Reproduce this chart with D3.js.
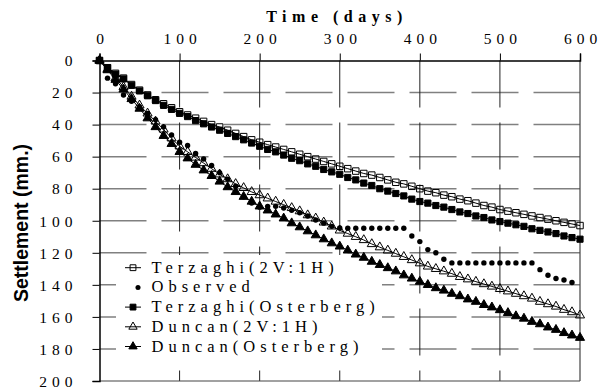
<!DOCTYPE html>
<html><head><meta charset="utf-8">
<script src="https://cdn.jsdelivr.net/npm/d3@7"></script>
<style>
body{margin:0;background:#fff;}
svg{display:block;}
.serif{font-family:"Liberation Serif","Times New Roman","DejaVu Serif",serif;}
.sans{font-family:"Liberation Sans",Arial,sans-serif;}
</style></head>
<body>
<svg id="chart" width="611" height="392"></svg>
<script>
// ---- data ----
const days = d3.range(0, 601, 10);
const xTicks = [0,100,200,300,400,500,600];
const yTicks = [0,20,40,60,80,100,120,140,160,180,200];
const seriesNames = ["Terzaghi(2V:1H)","Observed","Terzaghi(Osterberg)","Duncan(2V:1H)","Duncan(Osterberg)"];

const terzaghi2v1h = [0,4.5,8,11,15,18.5,21.5,24.5,27,29.5,32,34,36,38,40,41.5,43.5,45.5,47.5,49.5,51,
  52.5,54,55.5,57,58.5,60,61.5,63,64.5,66,67.5,69,70.5,71.5,73,74.5,76,77,78.5,80,
  81.5,82.5,84,85,86.5,87.5,89,90.5,91.5,93,94,95,96,97,98,99,100,101,102,103];
const terzaghiOst = [0,4.5,8.5,11.5,15.5,19,22,25,28,30.5,33,35,37.5,39.5,41.5,43.5,45.5,47.5,49.5,51.5,53.5,
  55.5,57,59,61,62.5,64.5,66,68,69.5,71,73,74.5,76.5,78,80,81.5,83,84.5,86.5,88,
  89,90.5,91.5,93,94.5,95.5,97,98,99.5,100.5,101.5,102.5,103.5,105,106,107,108,109.5,110.5,111.5];
const duncan2v1h = [0,5.5,11,16.5,22.5,28,33,38,43,48.5,53.5,57,60.5,64,67.5,71,74,77,79.5,82,84,
  86,88,90,92,94,96.5,98.5,101,103.5,106,108,110,112,114.5,116.5,118.5,120.5,122.5,124.5,126.5,
  128.5,130,131.5,133,135,136.5,138,139.5,141,142.5,144,145.5,147,148.5,150.5,152,153.5,155.5,157,159];
const duncanOst = [0,6,12,18,24,30,36,41.5,47,52,57,61,65,68.5,72,75.5,79,82,85,88,91,
  93.5,96,98.5,101.5,104,106.5,109,111.5,114,116,118.5,121,123,125.5,127.5,129.5,131.5,134,136,138,
  140,142,143.5,145.5,147,149,150.5,152.5,154,155.7,157.5,159.5,161,163,164.5,166.5,168,170,171.5,173];
const obsDays = d3.range(0, 591, 10);
const observed = [0,11,14.5,21.5,25.5,29,33,37,41.5,46.5,51,53,58,61.5,65.5,70,74,78.5,85,89,91.5,
  91,91,92,93.5,95,97,99.5,101.5,103.5,104.5,104.7,104.7,104.7,104.7,104.7,104.7,104.7,104.7,109.5,113,
  118,120,124,126.3,126.3,126.3,126.3,126.3,126.3,126.3,126.3,126.3,126.3,126.3,130.5,134,136,137,138.5];

// ---- layout ----
const svg = d3.select("#chart");
const x = d3.scaleLinear().domain([0,600]).range([99.5,580]);
const y = d3.scaleLinear().domain([0,200]).range([60.5,381]);
const LS = 5;

// grid
const g = svg.append("g");
g.selectAll("line.hg").data(yTicks.filter(d=>d>0 && d<200)).enter().append("line")
  .attr("x1",x(0)).attr("x2",x(600)).attr("y1",d=>y(d)).attr("y2",d=>y(d))
  .attr("stroke","#808080").attr("stroke-width",1.5).attr("stroke-dasharray","47,15");
g.selectAll("line.vg").data(xTicks.filter(d=>d>0 && d<600)).enter().append("line")
  .attr("x1",d=>x(d)).attr("x2",d=>x(d)).attr("y1",y(0)).attr("y2",y(200))
  .attr("stroke","#222").attr("stroke-width",1).attr("stroke-dasharray","47,15");

// legend box (hides grid, under the series)
svg.append("rect").attr("x",116).attr("y",255).attr("width",266).attr("height",109).attr("fill","#fff");

// frame
svg.append("line").attr("x1",x(600)).attr("x2",x(600)).attr("y1",y(0)).attr("y2",y(200)).attr("stroke","#444").attr("stroke-width",1.2);
svg.append("line").attr("x1",x(0)).attr("x2",x(600)).attr("y1",y(200)).attr("y2",y(200)).attr("stroke","#444").attr("stroke-width",1.2);

// axes
const topAxis = d3.axisTop(x).tickValues(xTicks).tickSize(7).tickPadding(10).tickFormat(d3.format("d"));
const ta = svg.append("g").attr("transform",`translate(0,${y(0)})`).call(topAxis);
const leftAxis = d3.axisLeft(y).tickValues(yTicks).tickSize(7).tickPadding(20).tickFormat(d3.format("d"));
const la = svg.append("g").attr("transform",`translate(${x(0)},0)`).call(leftAxis);
[ta,la].forEach(a=>{
  a.attr("font-family",null);
  a.select(".domain").attr("stroke","#000").attr("stroke-width",1.5);
  a.selectAll(".tick line").attr("stroke","#000").attr("stroke-width",1);
  a.selectAll("text").attr("class","serif").attr("font-size",15.5).attr("fill","#000")
    .style("letter-spacing",LS+"px");
});
ta.selectAll("text").attr("dx",LS/2);
la.selectAll("text").attr("dx",LS).attr("dy","0.34em");

// titles
svg.append("text").attr("class","serif").attr("x",334+3).attr("y",22).attr("text-anchor","middle")
  .attr("font-weight","bold").attr("font-size",16)
  .style("letter-spacing","5.5px").text("Time (days)");
svg.append("text").attr("class","sans").attr("transform",`translate(28,${223}) rotate(-90)`).attr("text-anchor","middle")
  .attr("font-weight","bold").attr("font-size",19.5)
  .text("Settlement (mm.)");

// series
const line = d3.line().x(d=>x(d[0])).y(d=>y(d[1]));
const plot = svg.append("g");
const series = [
  {vals:terzaghi2v1h, t:days, sym:d3.symbolSquare, size:42, fill:"none"},
  {vals:terzaghiOst, t:days, sym:d3.symbolSquare, size:38, fill:"#000"},
  {vals:duncan2v1h, t:days, sym:d3.symbolTriangle, size:36, fill:"none"},
  {vals:duncanOst, t:days, sym:d3.symbolTriangle, size:36, fill:"#000"}
];
series.forEach(s=>{
  const pts = s.t.map((t,i)=>[t,s.vals[i]]);
  plot.append("path").attr("d",line(pts)).attr("fill","none").attr("stroke","#000").attr("stroke-width",1);
  plot.selectAll(null).data(pts).enter().append("path")
    .attr("d",d3.symbol(s.sym,s.size)).attr("transform",d=>`translate(${x(d[0])},${y(d[1])})`)
    .attr("fill",s.fill).attr("stroke","#000").attr("stroke-width",1);
});
plot.selectAll(null).data(obsDays.map((t,i)=>[t,observed[i]])).enter().append("circle")
  .attr("cx",d=>x(d[0])).attr("cy",d=>y(d[1])).attr("r",2.7).attr("fill","#000");

// legend
const lg = svg.append("g");
const legendRows = [
  {name:seriesNames[0], sym:d3.symbolSquare, size:34, fill:"none", line:true},
  {name:seriesNames[1], sym:d3.symbolCircle, size:20, fill:"#000", line:false},
  {name:seriesNames[2], sym:d3.symbolSquare, size:34, fill:"#000", line:true},
  {name:seriesNames[3], sym:d3.symbolTriangle, size:30, fill:"none", line:true},
  {name:seriesNames[4], sym:d3.symbolTriangle, size:30, fill:"#000", line:true}
];
legendRows.forEach((r,i)=>{
  const by = 272.7 + i*19.7;
  const cy = by - 5;
  if(r.line) lg.append("line").attr("x1",125).attr("x2",141).attr("y1",cy).attr("y2",cy).attr("stroke","#000");
  lg.append("path").attr("d",d3.symbol(r.sym,r.size)).attr("transform",`translate(${r.line?133:138},${cy})`)
    .attr("fill",r.fill).attr("stroke",r.line?"#000":"none");
  lg.append("text").attr("class","serif").attr("x",151.5).attr("y",by).attr("font-size",16.5)
    .style("letter-spacing","5px").text(r.name);
});
</script>
</body></html>
